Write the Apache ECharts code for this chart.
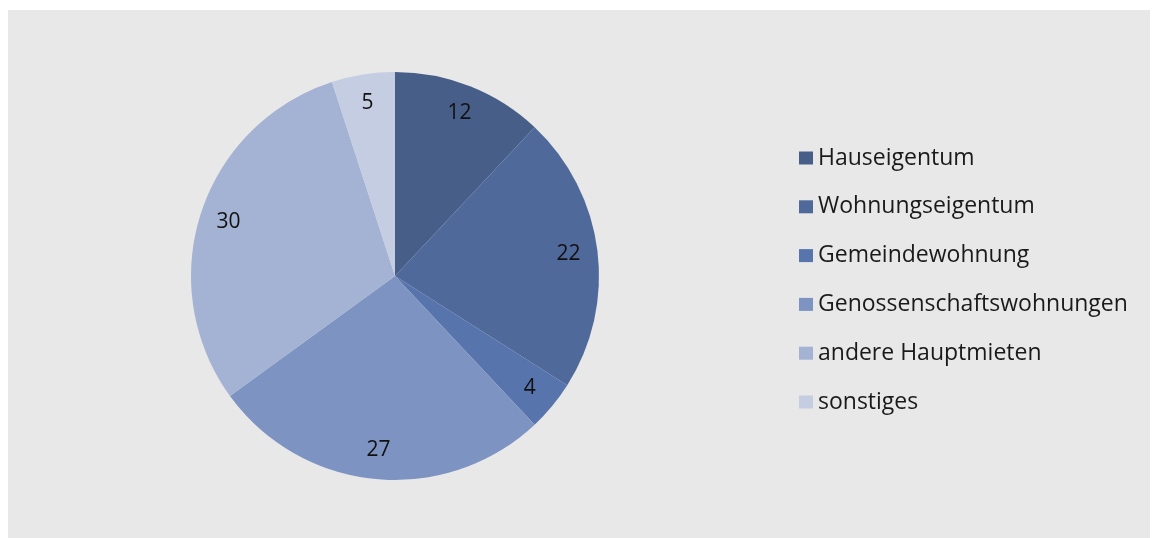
<!DOCTYPE html>
<html>
<head>
<meta charset="utf-8">
<script src="https://cdn.jsdelivr.net/npm/echarts@6/dist/echarts.min.js"></script>
<style>
  html, body { margin: 0; padding: 0; background: #ffffff; }
  #chart { width: 1153px; height: 538px; }
</style>
</head>
<body>
<div id="chart"></div>
<script>
// Wohnform shares (percent)
const categories = ['Hauseigentum', 'Wohnungseigentum', 'Gemeindewohnung', 'Genossenschaftswohnungen', 'andere Hauptmieten', 'sonstiges'];
const values = [12, 22, 4, 27, 30, 5];
const colors = ['#465e88', '#50699b', '#5874ad', '#7d93c2', '#a4b3d3', '#c4cde2'];

const FONT = '"Open Sans", Lato, sans-serif';
const center = [395, 276];
const data = categories.map((name, i) => ({ name, value: values[i], itemStyle: { color: colors[i] } }));

const chart = echarts.init(document.getElementById('chart'), null, { renderer: 'canvas' });
chart.setOption({
  backgroundColor: '#ffffff',
  animation: false,
  graphic: [{
    type: 'rect', z: -10, silent: true,
    shape: { x: 8, y: 10, width: 1142, height: 528 },
    style: { fill: '#e8e8e8' }
  }],
  legend: {
    orient: 'vertical',
    left: 794,
    top: 139,
    itemWidth: 14,
    itemHeight: 13,
    itemGap: 20.8,
    icon: 'rect',
    data: categories,
    textStyle: { fontFamily: FONT, fontSize: 23, color: '#1a1a1a', lineHeight: 28 }
  },
  series: [
    {
      type: 'pie',
      center: center,
      radius: [0, 204],
      startAngle: 90,
      clockwise: true,
      data: data,
      label: { show: false },
      labelLine: { show: false },
      itemStyle: { borderWidth: 0 },
      emphasis: { disabled: true }
    },
    {
      // value labels drawn on a transparent ring so they sit near the rim
      type: 'pie',
      center: center,
      radius: [140, 204],
      startAngle: 90,
      clockwise: true,
      silent: true,
      data: data.map(d => ({ name: d.name, value: d.value, itemStyle: { color: 'rgba(0,0,0,0)' } })),
      label: {
        show: true,
        position: 'inside',
        formatter: '{c}',
        fontFamily: FONT,
        fontSize: 21,
        color: '#111111'
      },
      labelLine: { show: false },
      emphasis: { disabled: true }
    }
  ]
});
</script>
</body>
</html>
